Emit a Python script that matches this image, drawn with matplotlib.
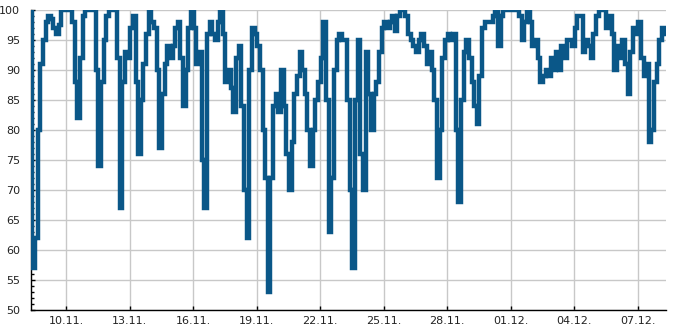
import matplotlib
matplotlib.use("Agg")
import matplotlib.pyplot as plt
import matplotlib.dates as mdates
from matplotlib.ticker import MultipleLocator
import pandas as pd

# 3-hourly readings, starting 08.11. 08:00
start = "2023-11-08 08:00"
step = "3h"
values = [
    100, 57, 62, 80, 91, 95, 98, 99,
    98.5, 97, 96, 97.5, 100, 100, 100, 100,
    98, 88, 82, 92, 99, 100, 100, 100,
    100, 90, 74, 88, 95, 99, 100, 100,
    100, 92, 67, 88, 93, 92, 97, 99,
    88, 76, 85, 91, 96, 100, 98, 97,
    90, 77, 86, 91, 94, 92, 94, 97,
    98, 92, 84, 90, 97, 100, 97, 91,
    93, 75, 67, 96, 98, 96, 95, 98,
    100, 96, 88, 90, 87, 83, 92, 94,
    84, 70, 62, 90, 97, 96, 94, 90,
    80, 72, 53, 72, 84, 86, 83, 90,
    84, 76, 70, 78, 86, 89, 93, 90,
    86, 80, 74, 80, 85, 88, 92, 98,
    85, 63, 72, 90, 95, 96, 95, 95,
    85, 70, 57, 85, 95, 76, 70, 93,
    86, 80, 86, 88, 93, 97, 98, 97,
    98, 99, 96.5, 99, 100, 100, 99, 96,
    95, 94, 93, 95, 96, 94, 91, 93,
    90, 85, 72, 80, 92, 95, 96, 95,
    96, 80, 68, 85, 93, 95, 92, 88,
    84, 81, 89, 97, 98, 98, 98, 99,
    100, 94, 99, 100, 100, 100, 100, 100,
    100, 99, 95, 98, 100, 98, 94, 95,
    92, 88, 89, 90, 89, 92, 90, 93,
    90, 94, 92, 95, 95, 94, 97, 99,
    99, 93, 95, 94, 92, 96, 99, 100,
    100, 100, 97, 99, 96, 90, 94, 92,
    95, 91, 86, 93, 97, 96, 98, 92,
    89, 91, 78, 80, 88, 91, 95, 97,
    96,
]
tick_start = "2023-11-10"
tick_count = 10
tick_every = "3D"

times = pd.date_range(start=start, periods=len(values), freq=step)
tick_dates = pd.date_range(start=tick_start, periods=tick_count, freq=tick_every)

fig = plt.figure(figsize=(6.85, 3.3), dpi=100)
ax = fig.add_axes([31 / 685, 20 / 330, 635 / 685, 300 / 330])

ax.plot(times, values, color="#0a5788", lw=3.2, drawstyle="steps-mid",
        solid_joinstyle="miter", zorder=3)

ax.set_ylim(50, 100)
ax.set_xlim(times[0], times[-1])
ax.yaxis.set_major_locator(MultipleLocator(5))
ax.yaxis.set_minor_locator(MultipleLocator(1))
ax.set_xticks(tick_dates)
ax.xaxis.set_major_formatter(mdates.DateFormatter("%d.%m."))

ax.grid(True, which="major", color="#c8c8c8", lw=1.0, zorder=0)
for s in ("top", "right"):
    ax.spines[s].set_visible(False)
for s in ("left", "bottom"):
    ax.spines[s].set_color("black")
    ax.spines[s].set_linewidth(1.0)

ax.tick_params(axis="y", which="major", direction="in", length=3, width=1,
               labelsize=8, pad=8, colors="black")
ax.tick_params(axis="y", which="minor", direction="in", length=2.5, width=1)
ax.tick_params(axis="x", which="major", direction="in", length=3, width=1,
               labelsize=8, pad=4, colors="black")
for lbl in ax.get_xticklabels() + ax.get_yticklabels():
    lbl.set_color("#222222")

fig.savefig("out.png", dpi=100)
